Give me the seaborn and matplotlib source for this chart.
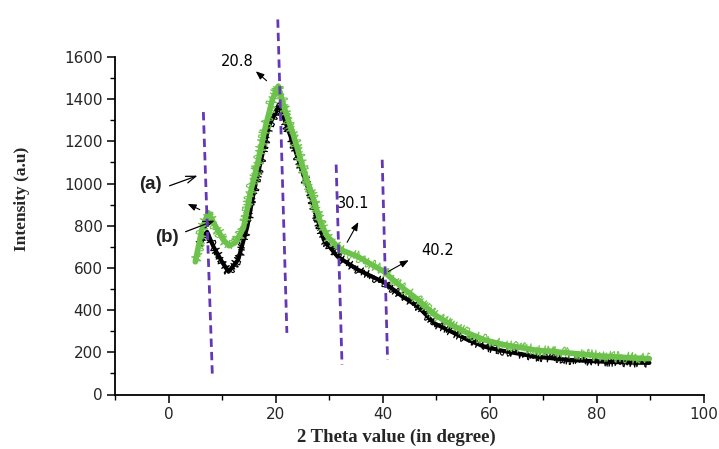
import matplotlib
matplotlib.use("Agg")
import matplotlib.pyplot as plt
import pandas as pd
import seaborn as sns

# XRD patterns: sample (a) green, sample (b) black
two_theta_a = [5.0, 6.2, 7.4, 8.4, 10.2, 11.3, 12.5, 14.0, 15.3, 16.8, 18.1, 19.4,
               20.5, 21.5, 23.4, 25.2, 27.1, 28.4, 29.7, 32.2, 35.4, 40.2, 43.4,
               46.6, 49.6, 52.8, 55.9, 59.0, 62.2, 68.4, 74.7, 81.0, 87.1, 89.8]
intensity_a = [629, 780, 862, 815, 734, 705, 720, 790, 957, 1114, 1270, 1399,
               1462, 1368, 1223, 1066, 923, 814, 748, 686, 653, 583, 512,
               449, 380, 330, 291, 259, 238, 211, 197, 182, 173, 170]

two_theta_b = [5.5, 6.3, 7.2, 8.4, 10.1, 11.2, 13.0, 14.7, 15.9, 17.6, 18.7, 20.0,
               20.6, 22.8, 24.7, 26.6, 29.0, 31.6, 35.4, 40.2, 43.4, 46.6, 49.6,
               52.8, 55.9, 59.0, 62.2, 68.4, 74.7, 81.0, 87.1, 89.8]
intensity_b = [700, 745, 771, 700, 624, 582, 639, 795, 957, 1147, 1270, 1340,
               1375, 1223, 1080, 937, 733, 653, 591, 532, 470, 417, 338,
               298, 259, 227, 208, 180, 164, 156, 151, 150]

# slanted dashed guides through the reflections (top and bottom ends)
guide_top_x = [6.5, 20.4, 31.3, 39.9]
guide_top_y = [1339, 1778, 1090, 1113]
guide_bot_x = [8.2, 22.1, 32.4, 40.9]
guide_bot_y = [78, 292, 140, 164]

peak_labels = ["20.8", "30.1", "40.2"]
peak_text_xy = [(12.9, 1579), (34.4, 905), (50.2, 681)]
peak_arrow_tail = [(18.7, 1479), (33.1, 710), (40.6, 577)]
peak_arrow_head = [(15.9, 1541), (35.7, 829), (45.3, 643)]

sample_labels = ["(a)", "(b)"]
sample_text_xy = [(-3.4, 995), (-0.3, 743)]
sample_arrow_tail = [(-0.3, 985), (2.7, 767)]
sample_arrow_head = [(5.9, 1042), (9.1, 829)]

x_ticks = [0, 20, 40, 60, 80, 100]
y_ticks = [0, 200, 400, 600, 800, 1000, 1200, 1400, 1600]

df_a = pd.DataFrame({"two_theta": two_theta_a, "intensity": intensity_a})
df_b = pd.DataFrame({"two_theta": two_theta_b, "intensity": intensity_b})

sns.set_style("ticks")
plt.rcParams["font.family"] = ["DejaVu Sans"]

fig = plt.figure(figsize=(7.19, 4.49), dpi=100)
ax = fig.add_axes([115 / 719, 1 - 394.5 / 449, 589 / 719, 337.5 / 449])

green = "#6cc24a"
# each pattern: a solid band plus a thin jittered stroke for the counting noise
for df, col, base_lw, jitter in [(df_b, "black", 3.0, 4.5), (df_a, green, 4.0, 5.5)]:
    sns.lineplot(data=df, x="two_theta", y="intensity", color=col,
                 lw=base_lw, sort=False, estimator=None, ax=ax)
    sns.lineplot(data=df, x="two_theta", y="intensity", color=col,
                 lw=0.8, sort=False, estimator=None, ax=ax)
    ax.lines[-1].set_sketch_params(scale=jitter, length=0.5, randomness=4)

guide_color = "#6438b4"
for x0, y0, x1, y1 in zip(guide_top_x, guide_top_y, guide_bot_x, guide_bot_y):
    ax.plot([x0, x1], [y0, y1], color=guide_color, lw=2.0,
            dashes=(3.0, 1.8), clip_on=False, zorder=4)

for lab, txy, tail, head in zip(peak_labels, peak_text_xy,
                                peak_arrow_tail, peak_arrow_head):
    ax.text(*txy, lab, fontsize=10.5, ha="center", va="center",
            family="DejaVu Sans", color="black")
    ax.annotate("", xy=head, xytext=tail,
                arrowprops=dict(arrowstyle="-|>,head_length=0.5,head_width=0.2",
                                color="black", lw=0.8),
                annotation_clip=False)

for lab, txy, tail, head in zip(sample_labels, sample_text_xy,
                                sample_arrow_tail, sample_arrow_head):
    ax.text(*txy, lab, fontsize=13.5, ha="center", va="center",
            family="Liberation Sans", fontweight="bold", color="#222222")
    ax.annotate("", xy=head, xytext=tail,
                arrowprops=dict(arrowstyle="->,head_length=0.7,head_width=0.25",
                                color="black", lw=0.9),
                annotation_clip=False)

# small pointer just above the first reflection
ax.annotate("", xy=(3.1, 909), xytext=(6.3, 871),
            arrowprops=dict(arrowstyle="-|>,head_length=0.5,head_width=0.2",
                            color="black", lw=0.8),
            annotation_clip=False)

ax.set_xlim(-10, 100)
ax.set_ylim(0, 1600)
ax.set_xticks(x_ticks)
ax.set_yticks(y_ticks)
ax.set_xticks(range(-10, 101, 10), minor=True)
ax.set_yticks(range(0, 1601, 100), minor=True)
ax.tick_params(axis="both", which="major", direction="out", length=6, width=1.1,
               labelsize=11, pad=3, color="black")
ax.tick_params(axis="both", which="minor", direction="out", length=3.5, width=1.0,
               color="black")

sns.despine(ax=ax)
for side in ["left", "bottom"]:
    ax.spines[side].set_linewidth(1.3)
    ax.spines[side].set_color("black")

ax.set_xlabel("2 Theta value (in degree)", family="Liberation Serif",
              fontweight="bold", fontsize=13.5)
ax.set_ylabel("Intensity (a.u)", family="Liberation Serif",
              fontweight="bold", fontsize=12.5)
ax.xaxis.label.set_va("center")
ax.yaxis.label.set_va("center")
ax.xaxis.set_label_coords(0.477, -0.126)
ax.yaxis.set_label_coords(-0.158, 0.579)

fig.savefig("out.png", dpi=100)
